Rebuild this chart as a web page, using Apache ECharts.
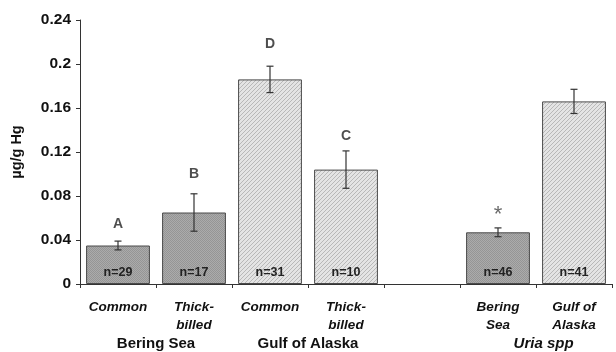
<!DOCTYPE html>
<html><head><meta charset="utf-8">
<script src="https://cdn.jsdelivr.net/npm/echarts@6/dist/echarts.min.js"></script>
<style>html,body{margin:0;padding:0;background:#fff}#c{width:616px;height:352px}</style>
</head><body><div id="c"></div>
<script>
var categories = ['Common','Thick-\nbilled','Common','Thick-\nbilled','','Bering\nSea','Gulf of\nAlaska'];
var values = [0.035, 0.065, 0.186, 0.104, null, 0.047, 0.166];
var errors = [0.004, 0.017, 0.012, 0.017, null, 0.004, 0.011];
var nLabels = ['n=29','n=17','n=31','n=10','','n=46','n=41'];
var sigLetters = ['A','B','D','C','','*',''];
var sigPos = [0.0545, 0.100, 0.218, 0.1345, null, 0.0625, null];
var barKind = ['dark','dark','light','light','','dark','light'];
var groupLabels = ['Bering Sea','Gulf of Alaska','Uria spp'];
var groupPos = [1, 3, 6.1];
var yTicks = [0, 0.04, 0.08, 0.12, 0.16, 0.2, 0.24];

function makePattern(kind){
  var c = document.createElement('canvas');
  if(kind==='light'){
    c.width=4;c.height=4;var g=c.getContext('2d');
    g.fillStyle='#e4e4e4';g.fillRect(0,0,4,4);
    g.fillStyle='#b8b8b8';
    for(var i=0;i<4;i++){g.fillRect(i,3-i,1,1);}
  } else {
    c.width=2;c.height=2;var g=c.getContext('2d');
    g.fillStyle='#ababab';g.fillRect(0,0,2,2);
    g.fillStyle='#959595';g.fillRect(0,0,1,1);g.fillRect(1,1,1,1);
  }
  return {image:c, repeat:'repeat'};
}
var patDark = makePattern('dark'), patLight = makePattern('light');

var font = 'Liberation Sans, Arial, sans-serif';
var chart = echarts.init(document.getElementById('c'), null, {renderer:'canvas'});

var barData = values.map(function(v,i){
  if(v==null) return null;
  return {value:v, itemStyle:{color: barKind[i]==='dark'?patDark:patLight}};
});
var errData = values.map(function(v,i){ return v==null? null : [i, v-errors[i], v+errors[i]]; });
var sigData = sigPos.map(function(v,i){
  if(v==null) return null;
  var star = sigLetters[i]==='*';
  return {value:[i,v], label:{formatter:sigLetters[i], fontSize: star?22:14, fontWeight: star?'normal':'bold', color: star?'#444':'#222'}};
});

chart.setOption({
  animation:false,
  grid:{left:80, right:4, top:20, bottom:68, outerBoundsMode:'none', containLabel:false},
  xAxis:{
    type:'category', data:categories,
    axisLine:{lineStyle:{color:'#333', width:1}},
    axisTick:{show:true, length:4, lineStyle:{color:'#333'}},
    axisLabel:{fontFamily:font, fontWeight:'bold', fontStyle:'italic', fontSize:13.5, color:'#111', margin:14, lineHeight:18, interval:0}
  },
  yAxis:{
    type:'value', min:0, max:0.24, interval:0.04,
    name:'µg/g Hg', nameLocation:'middle', nameGap:56, nameRotate:90,
    nameTextStyle:{fontFamily:font, fontWeight:'bold', fontSize:14.5, color:'#111'},
    splitLine:{show:false},
    axisLine:{show:true, lineStyle:{color:'#333'}},
    axisTick:{show:true, length:4, lineStyle:{color:'#333'}},
    axisLabel:{fontFamily:font, fontWeight:'bold', fontSize:15.5, color:'#111', margin:9}
  },
  series:[
    {type:'bar', data:barData, barWidth:'84%',
     itemStyle:{borderColor:'#4a4a4a', borderWidth:1},
     label:{show:true, position:'insideBottom', distance:5, fontFamily:font, fontWeight:'bold', fontSize:12.5, color:'#222',
       formatter:function(p){return nLabels[p.dataIndex];}}},
    {type:'custom', data:errData, z:5,
     renderItem:function(params, api){
       var x = api.value(0), lo = api.coord([x, api.value(1)]), hi = api.coord([x, api.value(2)]);
       var cx = lo[0], w = 3.5;
       var st = {stroke:'#333', lineWidth:1.2};
       return {type:'group', children:[
         {type:'line', shape:{x1:cx,y1:lo[1],x2:cx,y2:hi[1]}, style:st},
         {type:'line', shape:{x1:cx-w,y1:lo[1],x2:cx+w,y2:lo[1]}, style:st},
         {type:'line', shape:{x1:cx-w,y1:hi[1],x2:cx+w,y2:hi[1]}, style:st}
       ]};
     }},
    {type:'scatter', data:sigData, symbolSize:0, silent:true,
     label:{show:true, position:'inside', fontFamily:font, fontWeight:'bold', fontSize:14, color:'#222'}}
  ]
});

var gy = 344;
chart.setOption({graphic: groupLabels.map(function(t,i){
  var px = chart.convertToPixel({xAxisIndex:0}, 0);
  var px1 = chart.convertToPixel({xAxisIndex:0}, 1);
  var step = px1 - px;
  var x = px - step/2 + groupPos[i]*step;
  return {type:'text', x:x, y:gy, style:{text:t, fontFamily:font, fontWeight:'bold', fontStyle: i===2?'italic':'normal',
    fontSize:15, fill:'#111', textAlign:'center', textVerticalAlign:'middle'}};
})});
</script></body></html>
